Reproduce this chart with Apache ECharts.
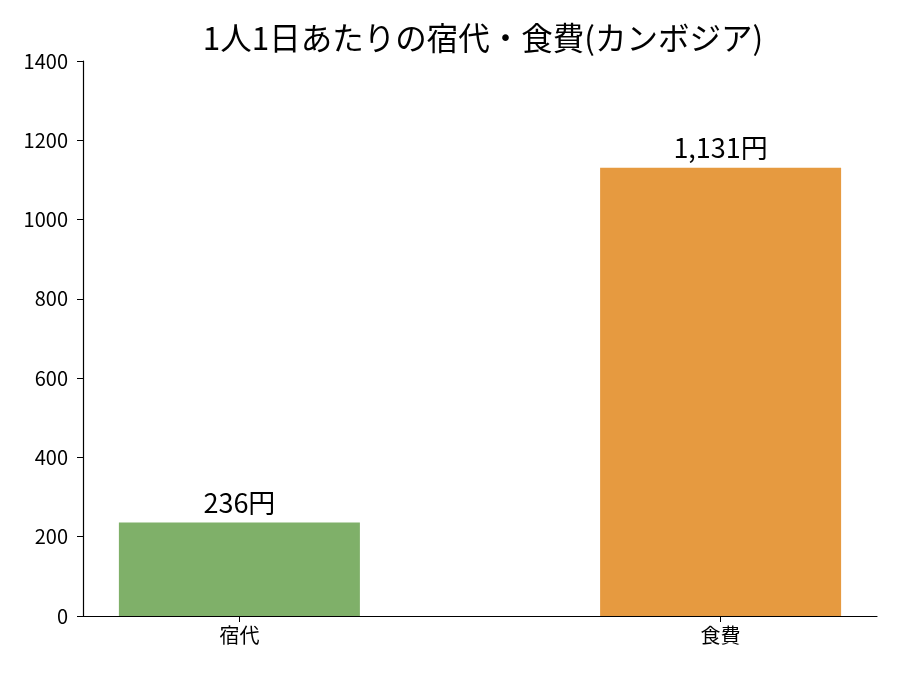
<!DOCTYPE html>
<html lang="ja">
  <head>
    <meta charset="UTF-8" />
    <title>1人1日あたりの宿代・食費(カンボジア)</title>
    <script src="https://cdn.jsdelivr.net/npm/echarts@6/dist/echarts.min.js"></script>
    <style>
      html, body { margin: 0; padding: 0; background: #fff; }
      #chart { width: 900px; height: 675px; }
    </style>
  </head>
  <body>
    <div id="chart"></div>
    <script>
      const categories = ["宿代", "食費"];
      const costs = [236, 1131];
      const barColors = ["#7fb069", "#e69a40"];
      const yTicks = [0, 200, 400, 600, 800, 1000, 1200, 1400];

      const font = "Noto Sans CJK JP";
      let chart = echarts.init(document.getElementById("chart"), null, {
        renderer: "canvas",
      });

      chart.setOption({
        animation: false,
        textStyle: { fontFamily: font },
        title: {
          text: "1人1日あたりの宿代・食費(カンボジア)",
          left: 478,
          top: 17,
          textAlign: "center",
          textStyle: { fontFamily: font, fontSize: 31.5, fontWeight: "normal", color: "#000" },
        },
        grid: { left: 83, right: 23, top: 61, bottom: 59 },
        xAxis: {
          type: "value",
          min: -0.325,
          max: 1.325,
          splitLine: { show: false },
          axisLine: { onZero: false, lineStyle: { color: "#000", width: 1.2 } },
          axisTick: { show: true, customValues: [0, 1], length: 6, lineStyle: { color: "#000" } },
          axisLabel: {
            customValues: [0, 1],
            formatter: (v) => categories[Math.round(v)],
            color: "#000",
            fontSize: 20,
            margin: 9,
            fontFamily: font,
          },
        },
        yAxis: {
          type: "value",
          min: yTicks[0],
          max: yTicks[yTicks.length - 1],
          interval: 200,
          splitLine: { show: false },
          axisLine: { show: true, onZero: false, lineStyle: { color: "#000", width: 1.2 } },
          axisTick: { show: true, length: 6, lineStyle: { color: "#000" } },
          axisLabel: {
            color: "#000",
            fontSize: 20,
            margin: 15,
            fontFamily: font,
            formatter: (v) => String(v),
          },
        },
        series: [
          {
            type: "bar",
            barWidth: 241,
            data: costs.map((v, i) => ({
              value: [i, v],
              itemStyle: { color: barColors[i] },
            })),
            label: {
              show: true,
              position: "top",
              distance: 6,
              color: "#000",
              fontSize: 27,
              fontFamily: font,
              formatter: (p) => p.value[1].toLocaleString("en-US") + "円",
            },
          },
        ],
      });
    </script>
  </body>
</html>
